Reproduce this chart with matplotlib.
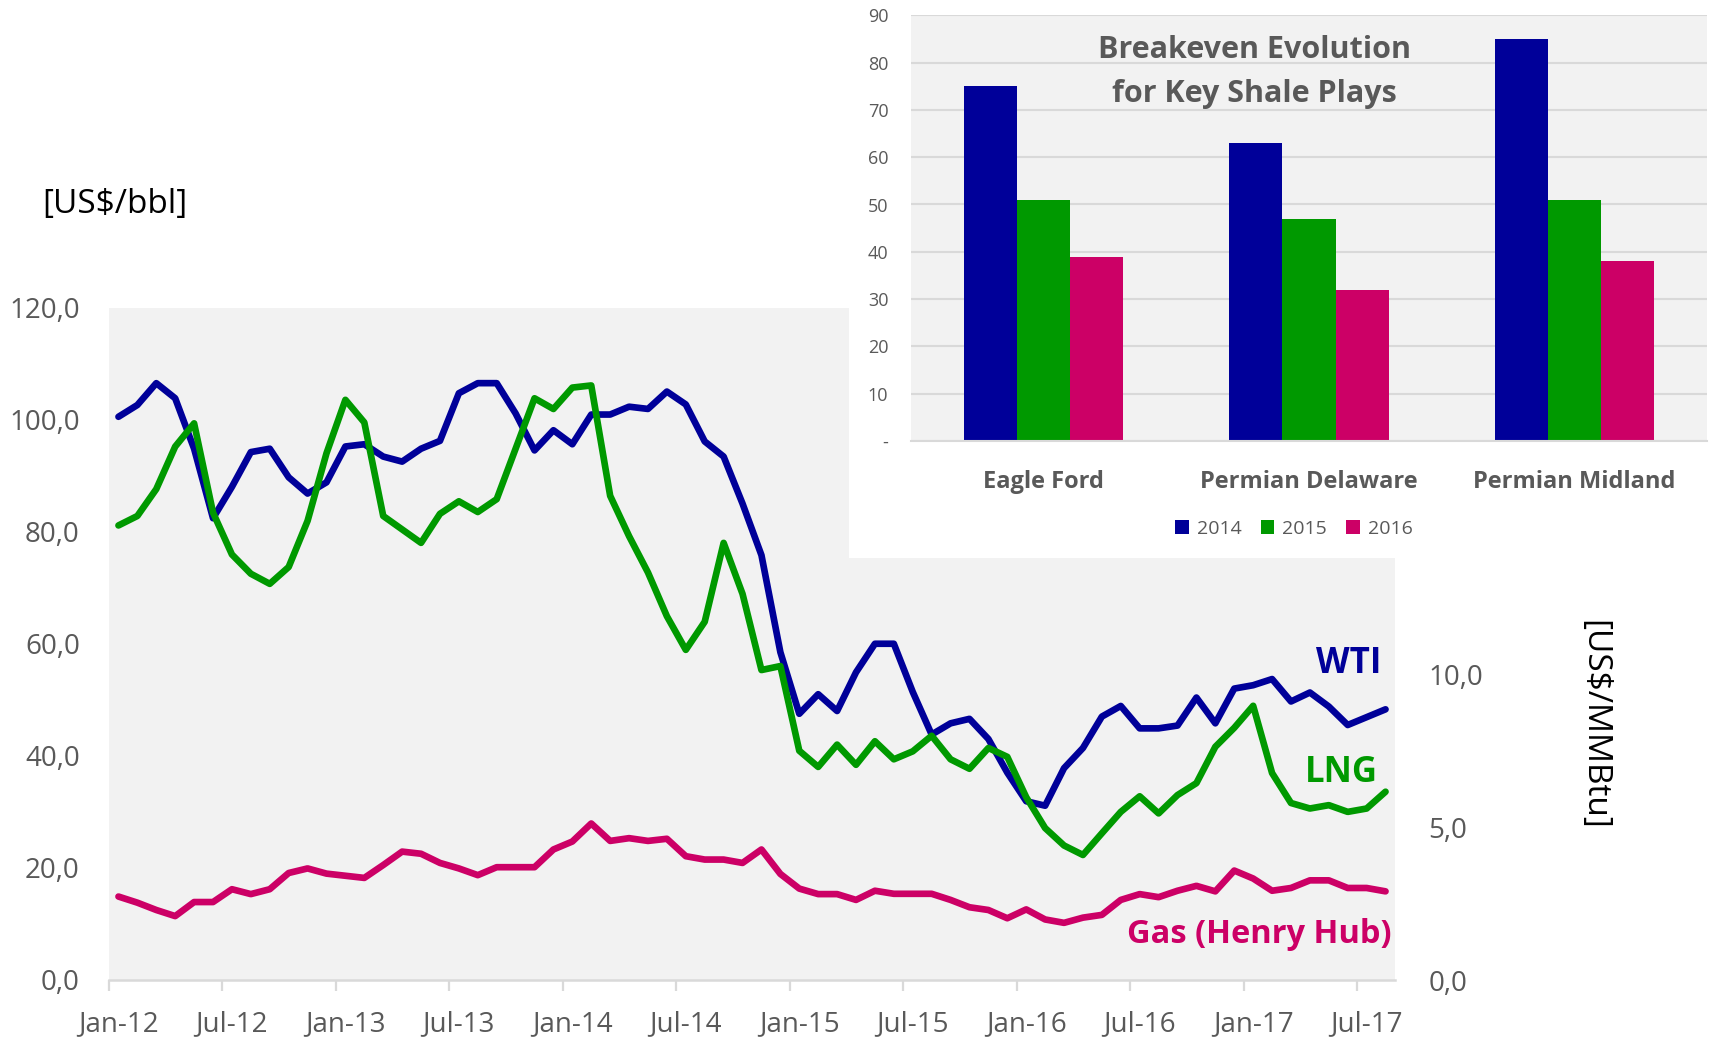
import matplotlib
matplotlib.use('Agg')
import matplotlib.pyplot as plt
import numpy as np

plt.rcParams['font.family'] = ['Open Sans', 'DejaVu Sans']

# monthly series, Jan-12 .. Aug-17
wti = [100.5, 102.6, 106.5, 103.8, 94.8, 82.4, 88.0, 94.2, 94.8, 89.7, 86.8, 88.8,
       95.2, 95.6, 93.4, 92.5, 94.8, 96.2, 104.7, 106.5, 106.5, 101.1, 94.5, 98.1,
       95.6, 100.9, 100.9, 102.3, 101.9, 105.0, 102.7, 96.1, 93.4, 85.0, 75.8, 58.5,
       47.5, 51.0, 48.0, 54.9, 60.0, 60.0, 51.4, 43.8, 45.8, 46.6, 43.0, 37.0,
       31.9, 31.1, 37.8, 41.4, 47.0, 48.9, 44.9, 44.9, 45.4, 50.4, 45.8, 52.0,
       52.6, 53.7, 49.7, 51.3, 48.8, 45.5, 46.9, 48.3]
# US$/MMBtu (right axis)
lng = [14.87, 15.18, 16.06, 17.45, 18.21, 15.29, 13.92, 13.29, 12.96, 13.51, 15.02, 17.23,
       18.98, 18.24, 15.18, 14.74, 14.30, 15.25, 15.66, 15.31, 15.73, 17.38, 19.03, 18.68,
       19.38, 19.45, 15.84, 14.52, 13.33, 11.90, 10.80, 11.72, 14.30, 12.63, 10.14, 10.27,
       7.50, 6.97, 7.70, 7.04, 7.81, 7.22, 7.48, 7.99, 7.22, 6.91, 7.59, 7.30,
       5.98, 4.97, 4.40, 4.09, 4.80, 5.50, 6.01, 5.45, 6.05, 6.44, 7.63, 8.25,
       8.97, 6.77, 5.79, 5.61, 5.72, 5.50, 5.61, 6.16]
gas = [2.73, 2.53, 2.29, 2.09, 2.55, 2.55, 2.97, 2.81, 2.97, 3.50, 3.65, 3.48,
       3.41, 3.34, 3.76, 4.20, 4.13, 3.83, 3.65, 3.43, 3.69, 3.69, 3.69, 4.27,
       4.53, 5.12, 4.55, 4.64, 4.55, 4.62, 4.05, 3.94, 3.94, 3.83, 4.27, 3.47,
       2.99, 2.81, 2.81, 2.62, 2.92, 2.82, 2.82, 2.82, 2.62, 2.38, 2.29, 2.02,
       2.31, 1.98, 1.87, 2.04, 2.13, 2.62, 2.81, 2.71, 2.92, 3.08, 2.90, 3.58,
       3.32, 2.92, 3.01, 3.26, 3.26, 3.01, 3.01, 2.90]
date_labels = ['Jan-12', 'Jul-12', 'Jan-13', 'Jul-13', 'Jan-14', 'Jul-14',
               'Jan-15', 'Jul-15', 'Jan-16', 'Jul-16', 'Jan-17', 'Jul-17']
left_ticks = [0, 20, 40, 60, 80, 100, 120]
right_ticks = [0, 5, 10, 15, 20]

# inset bars
plays = ['Eagle Ford', 'Permian Delaware', 'Permian Midland']
years = ['2014', '2015', '2016']
be_2014 = [75, 63, 85]
be_2015 = [51, 47, 51]
be_2016 = [39, 32, 38]
bar_ticks = [0, 10, 20, 30, 40, 50, 60, 70, 80, 90]

NAVY = '#000099'
GREEN = '#009900'
MAG = '#cc0066'
GREY = '#595959'
LIGHT = '#d9d9d9'

fig = plt.figure(figsize=(17.16, 10.41), dpi=100)

ax = fig.add_axes([109/1716, 1-980/1041, 1286/1716, 672.5/1041])
ax.set_facecolor('#f2f2f2')
x = np.arange(len(wti)) + 0.5
ax.plot(x, wti, color=NAVY, lw=4.8, solid_joinstyle='round', solid_capstyle='round')
ax.set_xlim(0, len(wti))
ax.set_ylim(0, 120)
for s in ['top', 'left', 'right']:
    ax.spines[s].set_visible(False)
ax.spines['bottom'].set_color(LIGHT)
ax.spines['bottom'].set_linewidth(1.8)
ax.set_yticks(left_ticks)
ax.set_yticklabels([f'{v:.1f}'.replace('.', ',') for v in left_ticks])
ax.tick_params(axis='y', length=0, pad=21, labelsize=20, labelcolor=GREY)
ax.set_xticks(np.arange(0, len(wti), 6))
ax.set_xticklabels([])
ax.tick_params(axis='x', which='major', length=8, width=1.6, color=LIGHT)
ax.set_xticks(np.arange(len(date_labels)) * 6 + 0.5, minor=True)
ax.set_xticklabels(date_labels, minor=True)
ax.tick_params(axis='x', which='minor', length=0, pad=22, labelsize=20, labelcolor=GREY)

ax2 = ax.twinx()
ax2.plot(x, gas, color=MAG, lw=4.8, solid_joinstyle='round', solid_capstyle='round')
ax2.plot(x, lng, color=GREEN, lw=4.8, solid_joinstyle='round', solid_capstyle='round')
ax2.set_ylim(0, 22)
for s in ax2.spines.values():
    s.set_visible(False)
ax2.set_yticks(right_ticks)
ax2.set_yticklabels([f'{v:.1f}'.replace('.', ',') for v in right_ticks])
ax2.tick_params(axis='y', length=0, pad=24, labelsize=20, labelcolor=GREY)

ax.text(67.3, 56.4, 'WTI', color=NAVY, fontsize=25, fontweight='bold', ha='right', va='center')
ax.text(67.1, 36.9, 'LNG', color=GREEN, fontsize=25, fontweight='bold', ha='right', va='center')
ax.text(67.8, 8.2, 'Gas (Henry Hub)', color=MAG, fontsize=23.5, fontweight='bold',
        ha='right', va='center')

fig.text(42/1716, 1-205/1041, '[US$/bbl]', fontsize=24, color='black', ha='left', va='center')
fig.text(1594/1716, 1-725/1041, '[US$/MMBtu]', fontsize=24, color='black', rotation=270,
         ha='center', va='center')

# white box behind the inset
bg = fig.add_axes([849/1716, 1-558/1041, 867/1716, 558/1041])
bg.set_facecolor('white')
bg.set_xticks([])
bg.set_yticks([])
for s in bg.spines.values():
    s.set_visible(False)

ins = fig.add_axes([910.6/1716, 1-441/1041, 796.7/1716, 425.7/1041])
ins.set_facecolor('#f2f2f2')
ins.set_axisbelow(True)
pos = np.arange(len(plays))
w = 0.2
ins.bar(pos - w, be_2014, w, color=NAVY, label=years[0])
ins.bar(pos, be_2015, w, color=GREEN, label=years[1])
ins.bar(pos + w, be_2016, w, color=MAG, label=years[2])
ins.set_xlim(-0.5, 2.5)
ins.set_ylim(0, 90)
ins.set_yticks(bar_ticks)
ins.set_yticklabels(['-' if v == 0 else str(v) for v in bar_ticks])
ins.grid(axis='y', color=LIGHT, lw=1.5)
for s in ['top', 'left', 'right']:
    ins.spines[s].set_visible(False)
ins.spines['bottom'].set_color(LIGHT)
ins.spines['bottom'].set_linewidth(1.5)
ins.tick_params(axis='y', length=0, pad=16, labelsize=13, labelcolor=GREY)
ins.set_xticks(pos)
ins.set_xticklabels(plays, fontweight='bold')
ins.tick_params(axis='x', length=0, pad=21, labelsize=17, labelcolor=GREY)

fig.text(1254/1716, 1-50/1041, 'Breakeven Evolution', fontsize=22, fontweight='bold',
         color=GREY, ha='center', va='center')
fig.text(1254/1716, 1-94/1041, 'for Key Shale Plays', fontsize=22, fontweight='bold',
         color=GREY, ha='center', va='center')

handles, labels = ins.get_legend_handles_labels()
fig.legend(handles, labels, loc='center', bbox_to_anchor=(1294/1716, 1-529/1041),
           ncol=3, frameon=False, fontsize=14, labelcolor=GREY, handlelength=0.7,
           handleheight=0.7, handletextpad=0.4, columnspacing=1.0)

fig.savefig('out.png', dpi=100)
